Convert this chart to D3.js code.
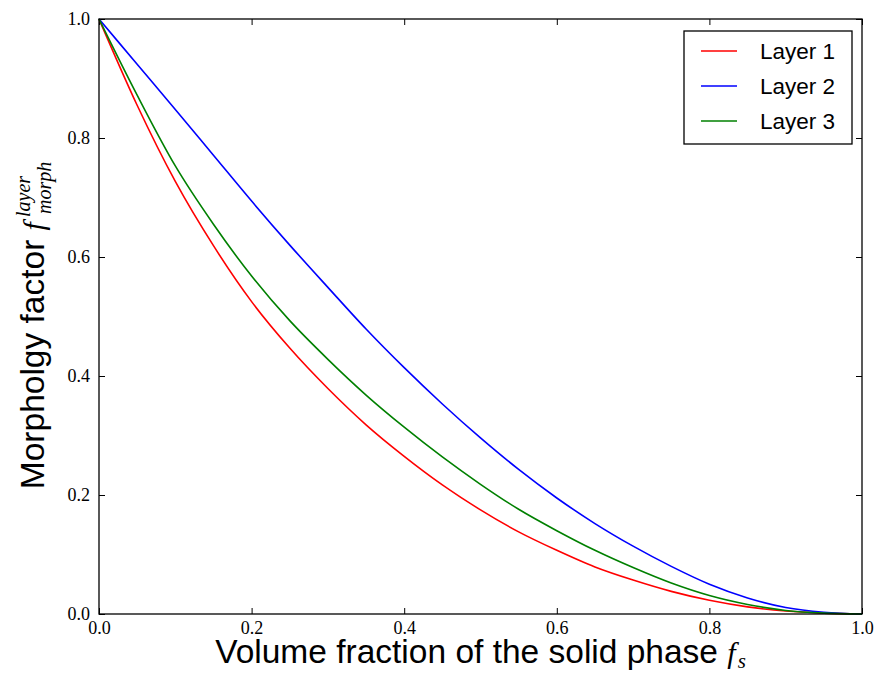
<!DOCTYPE html>
<html>
<head>
<meta charset="utf-8">
<script src="https://cdn.jsdelivr.net/npm/d3@7"></script>
<style>
  body { margin: 0; background: #fff; }
  .tick text { font-family: "Liberation Serif", serif; }
</style>
</head>
<body>
<svg id="chart" width="877" height="675"></svg>
<script>

// volume fraction values (x) and the three morphology curves
const fs = [0, 0.05, 0.1, 0.15, 0.2, 0.25, 0.3, 0.35, 0.4, 0.45, 0.5,
            0.55, 0.6, 0.65, 0.7, 0.75, 0.8, 0.85, 0.9, 0.95, 1.0];
const layer1 = [1, 0.855, 0.727, 0.619, 0.525, 0.447, 0.379, 0.318, 0.265, 0.217, 0.175,
                0.138, 0.107, 0.079, 0.057, 0.038, 0.023, 0.012, 0.005, 0.0015, 0];
const layer2 = [1, 0.924, 0.848, 0.771, 0.694, 0.620, 0.549, 0.479, 0.414, 0.353, 0.296,
                0.243, 0.195, 0.152, 0.114, 0.080, 0.050, 0.027, 0.011, 0.003, 0];
const layer3 = [1, 0.872, 0.753, 0.655, 0.568, 0.493, 0.428, 0.368, 0.314, 0.264, 0.218,
                0.176, 0.140, 0.107, 0.078, 0.052, 0.031, 0.016, 0.006, 0.0015, 0];

const seriesNames = ["Layer 1", "Layer 2", "Layer 3"];
const seriesColors = ["#ff0000", "#0000ff", "#008000"];
const tickValues = [0, 0.2, 0.4, 0.6, 0.8, 1.0];

const svg = d3.select("#chart");
const mLeft = 99, mRight = 862, mTop = 19, mBottom = 614;

const x = d3.scaleLinear().domain([0, 1]).range([mLeft, mRight]);
const y = d3.scaleLinear().domain([0, 1]).range([mBottom, mTop]);

// axes, ticks pointing inward on all four sides
const fmt = d3.format(".1f");
svg.append("g")
  .attr("transform", `translate(0,${mBottom})`)
  .call(d3.axisBottom(x).tickValues(tickValues).tickFormat(fmt).tickSizeInner(-6).tickSizeOuter(0).tickPadding(7))
  .call(g => g.select(".domain").remove())
  .call(g => g.selectAll("text").attr("font-size", 18).attr("fill", "#000"));
svg.append("g")
  .attr("transform", `translate(0,${mTop})`)
  .call(d3.axisTop(x).tickValues(tickValues).tickFormat("").tickSizeInner(-6).tickSizeOuter(0))
  .call(g => g.select(".domain").remove());
svg.append("g")
  .attr("transform", `translate(${mLeft},0)`)
  .call(d3.axisLeft(y).tickValues(tickValues).tickFormat(fmt).tickSizeInner(-6).tickSizeOuter(0).tickPadding(9))
  .call(g => g.select(".domain").remove())
  .call(g => g.selectAll("text").attr("font-size", 18).attr("fill", "#000"));
svg.append("g")
  .attr("transform", `translate(${mRight},0)`)
  .call(d3.axisRight(y).tickValues(tickValues).tickFormat("").tickSizeInner(-6).tickSizeOuter(0))
  .call(g => g.select(".domain").remove());

// curves
const line = d3.line()
  .x(d => x(d[0]))
  .y(d => y(d[1]))
  .curve(d3.curveMonotoneX);

[layer1, layer2, layer3].forEach((vals, i) => {
  svg.append("path")
    .datum(fs.map((f, j) => [f, vals[j]]))
    .attr("fill", "none")
    .attr("stroke", seriesColors[i])
    .attr("stroke-width", 1.6)
    .attr("d", line);
});

// frame
svg.append("rect")
  .attr("x", mLeft).attr("y", mTop)
  .attr("width", mRight - mLeft).attr("height", mBottom - mTop)
  .attr("fill", "none").attr("stroke", "#000").attr("stroke-width", 1.3);

// legend
const lg = svg.append("g");
lg.append("rect")
  .attr("x", 684).attr("y", 31).attr("width", 168).attr("height", 113)
  .attr("fill", "#fff").attr("stroke", "#000").attr("stroke-width", 1.3);
seriesNames.forEach((name, i) => {
  const yy = 51 + i * 35;
  lg.append("line")
    .attr("x1", 701).attr("x2", 737).attr("y1", yy).attr("y2", yy)
    .attr("stroke", seriesColors[i]).attr("stroke-width", 1.6);
  lg.append("text")
    .attr("x", 760).attr("y", yy + 8)
    .attr("font-family", "Liberation Sans, Arial, sans-serif")
    .attr("font-size", 22.5)
    .text(name);
});

// x label
const xl = svg.append("text")
  .attr("x", (mLeft + mRight) / 2).attr("y", 663)
  .attr("text-anchor", "middle")
  .attr("font-family", "Liberation Sans, Arial, sans-serif")
  .attr("font-size", 33.5);
xl.append("tspan").text("Volume fraction of the solid phase ");
xl.append("tspan").attr("font-family", "Liberation Serif, serif").attr("font-style", "italic").attr("font-size", 30).text("f");
xl.append("tspan").attr("font-family", "Liberation Serif, serif").attr("font-style", "italic").attr("font-size", 21).attr("dx", 2).attr("dy", 5).text("s");

// y label
const yl = svg.append("g")
  .attr("transform", `translate(44,${(mTop + mBottom) / 2 + 9}) rotate(-90)`);
const yt = yl.append("text")
  .attr("text-anchor", "middle")
  .attr("font-family", "Liberation Sans, Arial, sans-serif")
  .attr("font-size", 33.5);
yt.append("tspan").text("Morpholgy factor ");
yt.append("tspan").attr("font-family", "Liberation Serif, serif").attr("font-style", "italic").attr("font-size", 30).text("f");
const fEnd = yt.node().getComputedTextLength();
yt.append("tspan").attr("font-family", "Liberation Serif, serif").attr("font-style", "italic").attr("font-size", 20)
  .attr("dx", 5).attr("dy", -14).text("layer");
// subscript under the superscript
const supLen = yt.node().getComputedTextLength() - fEnd;
yt.append("tspan").attr("font-family", "Liberation Serif, serif").attr("font-style", "italic").attr("font-size", 20)
  .attr("dx", -supLen + 3).attr("dy", 21).text("morph");
</script>
</body>
</html>
